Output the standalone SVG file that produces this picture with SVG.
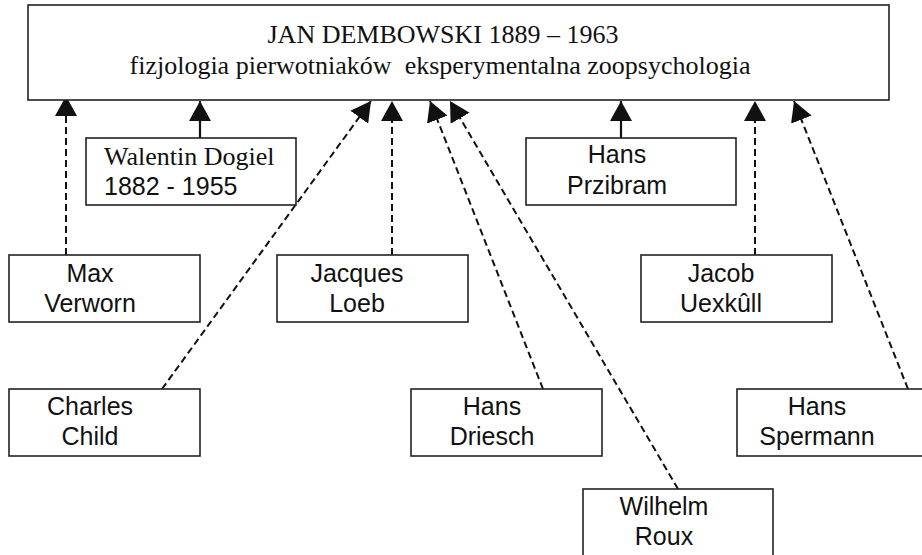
<svg xmlns="http://www.w3.org/2000/svg" width="922" height="555" viewBox="0 0 922 555">
  <style>
    .box { fill: #ffffff; stroke: #222222; stroke-width: 1.6; }
    .serif { font-family: "Liberation Serif", "Times New Roman", serif; font-size: 26px; fill: #111111; }
    .sans { font-family: "Liberation Sans", Arial, sans-serif; font-size: 25px; fill: #111111; text-anchor: middle; }
    .sans.left { text-anchor: start; }
    .dash { fill: none; stroke: #111111; stroke-width: 2; stroke-dasharray: 7 4; }
    .solid { fill: none; stroke: #111111; stroke-width: 2.2; }
  </style>
  <defs>
    <marker id="head" viewBox="0 0 20 22" refX="20" refY="11" markerWidth="20" markerHeight="22" markerUnits="userSpaceOnUse" orient="auto">
      <path d="M0,0 L20,11 L0,22 Z" fill="#111111" stroke="none"/>
    </marker>
  </defs>
  <rect width="922" height="555" fill="#ffffff"/>

  <!-- connectors -->
  <g id="connectors">
    <line class="dash" x1="66" y1="255" x2="66" y2="96" marker-end="url(#head)"/>
    <line class="solid" x1="200" y1="138" x2="200" y2="101" marker-end="url(#head)"/>
    <line class="dash" x1="162" y1="389" x2="371" y2="101" marker-end="url(#head)"/>
    <line class="dash" x1="392" y1="255" x2="392" y2="101" marker-end="url(#head)"/>
    <line class="dash" x1="543" y1="389" x2="430" y2="101" marker-end="url(#head)"/>
    <line class="dash" x1="678" y1="489" x2="450" y2="101" marker-end="url(#head)"/>
    <line class="solid" x1="621" y1="138" x2="621" y2="101" marker-end="url(#head)"/>
    <line class="dash" x1="755" y1="255" x2="755" y2="101" marker-end="url(#head)"/>
    <line class="dash" x1="908" y1="389" x2="794" y2="101" marker-end="url(#head)"/>
  </g>

  <g id="dembowski">
    <rect class="box" x="28" y="5" width="861" height="95"/>
    <text class="serif" x="443" y="43" text-anchor="middle">JAN DEMBOWSKI 1889 – 1963</text>
    <text class="serif" x="440" y="74" text-anchor="middle" xml:space="preserve">fizjologia pierwotniaków  eksperymentalna zoopsychologia</text>
  </g>

  <g id="dogiel">
    <rect class="box" x="86" y="138" width="210" height="67"/>
    <text class="serif" x="104" y="165">Walentin Dogiel</text>
    <text class="sans left" x="104" y="195">1882 - 1955</text>
  </g>

  <g id="przibram">
    <rect class="box" x="526" y="138" width="210" height="67"/>
    <text class="sans" x="617" y="163">Hans</text>
    <text class="sans" x="617" y="194">Przibram</text>
  </g>

  <g id="verworn">
    <rect class="box" x="9" y="255" width="191" height="67"/>
    <text class="sans" x="90" y="282">Max</text>
    <text class="sans" x="90" y="312">Verworn</text>
  </g>

  <g id="loeb">
    <rect class="box" x="277" y="255" width="191" height="67"/>
    <text class="sans" x="357" y="282">Jacques</text>
    <text class="sans" x="357" y="312">Loeb</text>
  </g>

  <g id="uexkull">
    <rect class="box" x="641" y="255" width="191" height="67"/>
    <text class="sans" x="721" y="282">Jacob</text>
    <text class="sans" x="721" y="312">Uexkûll</text>
  </g>

  <g id="child">
    <rect class="box" x="9" y="389" width="191" height="67"/>
    <text class="sans" x="90" y="415">Charles</text>
    <text class="sans" x="90" y="445">Child</text>
  </g>

  <g id="driesch">
    <rect class="box" x="411" y="389" width="191" height="67"/>
    <text class="sans" x="492" y="415">Hans</text>
    <text class="sans" x="492" y="445">Driesch</text>
  </g>

  <g id="spermann">
    <rect class="box" x="737" y="389" width="195" height="67"/>
    <text class="sans" x="817" y="415">Hans</text>
    <text class="sans" x="817" y="445">Spermann</text>
  </g>

  <g id="roux">
    <rect class="box" x="583" y="489" width="190" height="75"/>
    <text class="sans" x="664" y="515">Wilhelm</text>
    <text class="sans" x="664" y="545">Roux</text>
  </g>
</svg>
